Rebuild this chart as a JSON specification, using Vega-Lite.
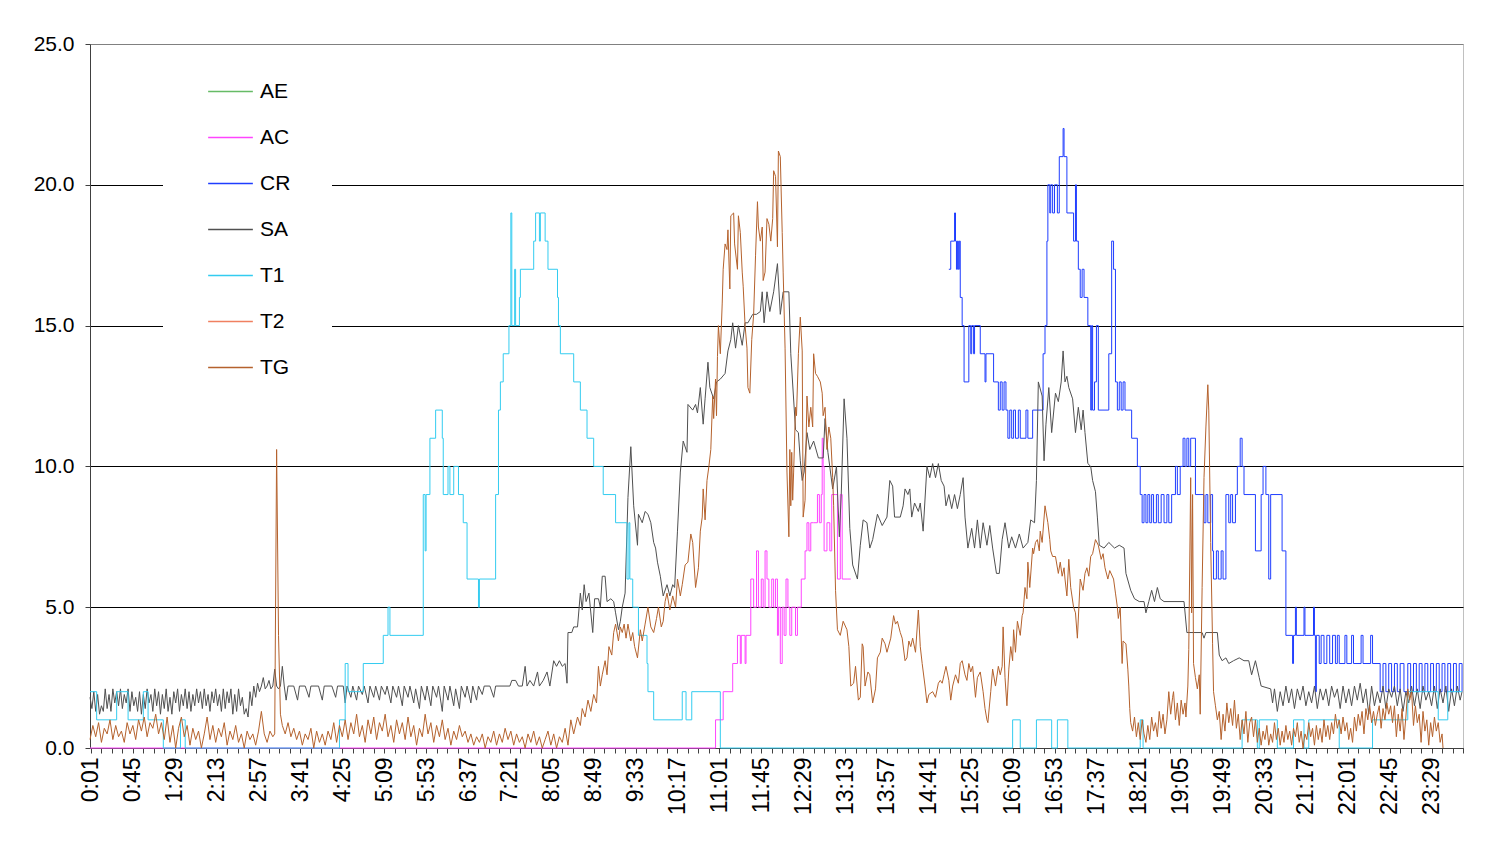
{
"$schema": "https://vega.github.io/schema/vega-lite/v6.json",
"width": 1373, "height": 704,
"autosize": {"type": "none"},
"padding": {"left": 90, "top": 44, "right": 32, "bottom": 94},
"background": "white",
"config": {"view": {"stroke": "#c0c0c0", "strokeWidth": 1}, "font": "Liberation Sans"},
"datasets": {
"ac": [{"t":0,"v":0},{"t":657,"v":1},{"t":665,"v":2},{"t":675,"v":3},{"t":680,"v":4},{"t":683,"v":3},{"t":684,"v":4},{"t":688,"v":3},{"t":689,"v":4},{"t":694,"v":6},{"t":697,"v":5},{"t":700,"v":7},{"t":702,"v":5},{"t":705,"v":6},{"t":707,"v":5},{"t":709,"v":7},{"t":711,"v":6},{"t":713,"v":5},{"t":716,"v":6},{"t":718,"v":5},{"t":720,"v":6},{"t":722,"v":4},{"t":723,"v":5},{"t":725,"v":3},{"t":727,"v":5},{"t":729,"v":4},{"t":731,"v":6},{"t":733,"v":5},{"t":735,"v":4},{"t":737,"v":5},{"t":741,"v":4},{"t":743,"v":5},{"t":747,"v":6},{"t":751,"v":7},{"t":753,"v":8},{"t":755,"v":7},{"t":757,"v":8},{"t":760,"v":8},{"t":764,"v":9},{"t":766,"v":8},{"t":768,"v":9},{"t":769,"v":11},{"t":770,"v":10},{"t":771,"v":7},{"t":774,"v":8},{"t":777,"v":7},{"t":779,"v":9},{"t":783,"v":9},{"t":785,"v":6},{"t":788,"v":9},{"t":790,"v":6},{"t":796,"v":6},{"t":799,"v":6}],
"cr": [{"t":902,"v":17},{"t":904,"v":18},{"t":908,"v":19},{"t":909,"v":18},{"t":910,"v":17},{"t":911,"v":18},{"t":912,"v":17},{"t":913,"v":18},{"t":914,"v":16},{"t":916,"v":15},{"t":918,"v":13},{"t":923,"v":15},{"t":925,"v":14},{"t":926,"v":15},{"t":928,"v":14},{"t":929,"v":15},{"t":935,"v":14},{"t":940,"v":13},{"t":941,"v":14},{"t":949,"v":13},{"t":954,"v":12},{"t":956,"v":13},{"t":958,"v":12},{"t":960,"v":13},{"t":962,"v":12},{"t":964,"v":11},{"t":966,"v":12},{"t":968,"v":11},{"t":970,"v":12},{"t":972,"v":11},{"t":975,"v":12},{"t":977,"v":11},{"t":983,"v":12},{"t":985,"v":11},{"t":990,"v":12},{"t":1001,"v":14},{"t":1003,"v":15},{"t":1005,"v":18},{"t":1006,"v":20},{"t":1008,"v":19},{"t":1009,"v":20},{"t":1011,"v":19},{"t":1013,"v":20},{"t":1016,"v":19},{"t":1018,"v":21},{"t":1022,"v":22},{"t":1023,"v":21},{"t":1026,"v":19},{"t":1033,"v":18},{"t":1035,"v":20},{"t":1036,"v":18},{"t":1038,"v":17},{"t":1040,"v":16},{"t":1042,"v":17},{"t":1044,"v":16},{"t":1048,"v":15},{"t":1051,"v":12},{"t":1052,"v":15},{"t":1053,"v":12},{"t":1055,"v":13},{"t":1057,"v":15},{"t":1059,"v":12},{"t":1070,"v":14},{"t":1073,"v":18},{"t":1075,"v":17},{"t":1077,"v":13},{"t":1079,"v":12},{"t":1081,"v":13},{"t":1083,"v":12},{"t":1085,"v":13},{"t":1087,"v":12},{"t":1094,"v":11},{"t":1100,"v":10},{"t":1103,"v":9},{"t":1105,"v":8},{"t":1107,"v":9},{"t":1109,"v":8},{"t":1111,"v":9},{"t":1113,"v":8},{"t":1115,"v":9},{"t":1117,"v":8},{"t":1120,"v":9},{"t":1122,"v":8},{"t":1125,"v":9},{"t":1128,"v":8},{"t":1131,"v":9},{"t":1133,"v":8},{"t":1136,"v":9},{"t":1140,"v":10},{"t":1142,"v":9},{"t":1145,"v":10},{"t":1148,"v":11},{"t":1150,"v":10},{"t":1152,"v":11},{"t":1154,"v":10},{"t":1156,"v":11},{"t":1161,"v":9},{"t":1170,"v":8},{"t":1172,"v":9},{"t":1174,"v":8},{"t":1177,"v":9},{"t":1179,"v":7},{"t":1180,"v":6},{"t":1183,"v":7},{"t":1185,"v":6},{"t":1188,"v":7},{"t":1190,"v":6},{"t":1193,"v":9},{"t":1196,"v":8},{"t":1198,"v":9},{"t":1200,"v":8},{"t":1203,"v":9},{"t":1205,"v":10},{"t":1208,"v":11},{"t":1210,"v":10},{"t":1212,"v":9},{"t":1224,"v":7},{"t":1230,"v":9},{"t":1232,"v":10},{"t":1235,"v":9},{"t":1238,"v":6},{"t":1240,"v":9},{"t":1252,"v":7},{"t":1256,"v":4},{"t":1263,"v":3},{"t":1264,"v":4},{"t":1266,"v":5},{"t":1267,"v":4},{"t":1275,"v":5},{"t":1276,"v":4},{"t":1285,"v":5},{"t":1286,"v":4},{"t":1287,"v":2},{"t":1288,"v":4},{"t":1291,"v":3},{"t":1293,"v":4},{"t":1296,"v":3},{"t":1299,"v":4},{"t":1302,"v":3},{"t":1305,"v":4},{"t":1308,"v":3},{"t":1310,"v":4},{"t":1312,"v":3},{"t":1318,"v":4},{"t":1320,"v":3},{"t":1325,"v":4},{"t":1327,"v":3},{"t":1335,"v":4},{"t":1337,"v":3},{"t":1345,"v":4},{"t":1347,"v":3},{"t":1355,"v":2},{"t":1358,"v":3},{"t":1361,"v":2},{"t":1364,"v":3},{"t":1367,"v":2},{"t":1370,"v":3},{"t":1373,"v":2},{"t":1376,"v":3},{"t":1380,"v":2},{"t":1384,"v":3},{"t":1387,"v":2},{"t":1390,"v":3},{"t":1393,"v":2},{"t":1396,"v":3},{"t":1399,"v":2},{"t":1402,"v":3},{"t":1405,"v":2},{"t":1408,"v":3},{"t":1411,"v":2},{"t":1414,"v":3},{"t":1417,"v":2},{"t":1420,"v":3},{"t":1423,"v":2},{"t":1426,"v":3},{"t":1429,"v":2},{"t":1432,"v":3},{"t":1435,"v":2},{"t":1438,"v":3},{"t":1441,"v":2}],
"sa": [{"t":0,"v":1.8},{"t":2,"v":1.4},{"t":4,"v":2.0},{"t":6,"v":1.3},{"t":8,"v":1.9},{"t":10,"v":1.2},{"t":12,"v":1.5},{"t":14,"v":1.3},{"t":16,"v":2.1},{"t":18,"v":1.4},{"t":20,"v":1.9},{"t":22,"v":1.3},{"t":24,"v":2.1},{"t":26,"v":1.6},{"t":28,"v":2.0},{"t":30,"v":1.5},{"t":32,"v":2.1},{"t":34,"v":1.4},{"t":36,"v":1.9},{"t":38,"v":1.6},{"t":40,"v":2.1},{"t":42,"v":1.3},{"t":44,"v":2.0},{"t":46,"v":1.5},{"t":48,"v":1.8},{"t":50,"v":1.3},{"t":52,"v":2.0},{"t":54,"v":1.2},{"t":56,"v":1.9},{"t":58,"v":1.4},{"t":60,"v":2.1},{"t":62,"v":1.6},{"t":64,"v":1.9},{"t":66,"v":1.3},{"t":68,"v":2.1},{"t":70,"v":1.5},{"t":72,"v":2.0},{"t":74,"v":1.2},{"t":76,"v":1.9},{"t":78,"v":1.4},{"t":80,"v":2.1},{"t":82,"v":1.3},{"t":84,"v":1.8},{"t":86,"v":1.2},{"t":88,"v":2.0},{"t":90,"v":1.6},{"t":92,"v":2.1},{"t":94,"v":1.3},{"t":96,"v":1.9},{"t":98,"v":1.5},{"t":100,"v":2.1},{"t":102,"v":1.4},{"t":104,"v":2.0},{"t":106,"v":1.3},{"t":108,"v":1.9},{"t":110,"v":1.5},{"t":112,"v":2.1},{"t":114,"v":1.6},{"t":116,"v":2.0},{"t":118,"v":1.4},{"t":120,"v":2.1},{"t":122,"v":1.5},{"t":124,"v":1.9},{"t":126,"v":1.3},{"t":128,"v":2.0},{"t":130,"v":1.6},{"t":132,"v":2.1},{"t":134,"v":1.5},{"t":136,"v":1.9},{"t":138,"v":1.3},{"t":140,"v":2.1},{"t":142,"v":1.4},{"t":144,"v":2.0},{"t":146,"v":1.6},{"t":148,"v":2.1},{"t":150,"v":1.2},{"t":152,"v":1.9},{"t":154,"v":1.3},{"t":156,"v":2.1},{"t":158,"v":1.5},{"t":160,"v":1.8},{"t":162,"v":1.2},{"t":164,"v":1.4},{"t":166,"v":1.1},{"t":168,"v":2.0},{"t":170,"v":1.5},{"t":172,"v":2.2},{"t":174,"v":1.8},{"t":176,"v":2.3},{"t":178,"v":2.0},{"t":180,"v":2.2},{"t":182,"v":2.5},{"t":184,"v":2.1},{"t":186,"v":2.2},{"t":188,"v":2.4},{"t":190,"v":2.1},{"t":192,"v":2.2},{"t":194,"v":2.8},{"t":196,"v":2.2},{"t":198,"v":2.1},{"t":200,"v":2.2},{"t":202,"v":2.9},{"t":204,"v":2.2},{"t":206,"v":1.7},{"t":208,"v":2.2},{"t":214,"v":2.2},{"t":218,"v":1.7},{"t":220,"v":2.2},{"t":226,"v":2.2},{"t":230,"v":1.8},{"t":232,"v":2.2},{"t":240,"v":2.2},{"t":244,"v":1.7},{"t":246,"v":2.2},{"t":254,"v":2.2},{"t":258,"v":1.8},{"t":260,"v":2.2},{"t":266,"v":2.2},{"t":268,"v":1.6},{"t":270,"v":2.2},{"t":274,"v":1.8},{"t":276,"v":2.2},{"t":280,"v":1.7},{"t":282,"v":2.2},{"t":286,"v":1.9},{"t":288,"v":2.2},{"t":292,"v":1.6},{"t":294,"v":2.2},{"t":298,"v":1.8},{"t":300,"v":2.2},{"t":304,"v":1.7},{"t":306,"v":2.2},{"t":310,"v":1.9},{"t":312,"v":2.2},{"t":316,"v":1.6},{"t":318,"v":2.2},{"t":322,"v":1.8},{"t":324,"v":2.2},{"t":328,"v":1.5},{"t":330,"v":2.2},{"t":334,"v":1.8},{"t":336,"v":2.2},{"t":340,"v":1.6},{"t":342,"v":2.1},{"t":346,"v":1.4},{"t":348,"v":2.2},{"t":352,"v":1.7},{"t":354,"v":2.2},{"t":358,"v":1.5},{"t":360,"v":2.2},{"t":364,"v":1.8},{"t":366,"v":2.2},{"t":370,"v":1.3},{"t":372,"v":2.2},{"t":376,"v":1.7},{"t":378,"v":2.2},{"t":382,"v":1.5},{"t":384,"v":2.1},{"t":388,"v":1.4},{"t":390,"v":2.2},{"t":394,"v":1.8},{"t":396,"v":2.2},{"t":400,"v":1.6},{"t":402,"v":2.2},{"t":406,"v":1.7},{"t":408,"v":2.2},{"t":412,"v":1.9},{"t":414,"v":2.2},{"t":420,"v":2.2},{"t":424,"v":1.8},{"t":426,"v":2.2},{"t":441,"v":2.2},{"t":443,"v":2.4},{"t":447,"v":2.4},{"t":450,"v":2.2},{"t":454,"v":2.2},{"t":457,"v":2.9},{"t":459,"v":2.2},{"t":462,"v":2.4},{"t":466,"v":2.2},{"t":470,"v":2.7},{"t":472,"v":2.2},{"t":476,"v":2.4},{"t":480,"v":2.7},{"t":483,"v":2.2},{"t":487,"v":3.1},{"t":490,"v":2.9},{"t":493,"v":3.1},{"t":496,"v":2.9},{"t":499,"v":3.0},{"t":501,"v":2.3},{"t":502,"v":4.1},{"t":506,"v":4.1},{"t":508,"v":4.3},{"t":512,"v":4.3},{"t":515,"v":5.5},{"t":517,"v":4.9},{"t":519,"v":5.8},{"t":521,"v":5.2},{"t":524,"v":5.5},{"t":528,"v":4.1},{"t":530,"v":5.3},{"t":534,"v":5.3},{"t":536,"v":5.0},{"t":538,"v":6.1},{"t":541,"v":6.1},{"t":543,"v":5.2},{"t":547,"v":5.3},{"t":550,"v":5.2},{"t":552,"v":4.8},{"t":555,"v":4.2},{"t":557,"v":4.5},{"t":559,"v":5.0},{"t":562,"v":5.5},{"t":565,"v":8.9},{"t":568,"v":10.7},{"t":571,"v":8.6},{"t":575,"v":7.2},{"t":576,"v":8.3},{"t":580,"v":8.0},{"t":583,"v":8.4},{"t":586,"v":8.3},{"t":589,"v":8.0},{"t":592,"v":7.3},{"t":594,"v":7.1},{"t":596,"v":6.6},{"t":599,"v":6.1},{"t":602,"v":5.4},{"t":606,"v":5.8},{"t":609,"v":5.4},{"t":612,"v":5.8},{"t":614,"v":5.7},{"t":617,"v":7.7},{"t":620,"v":9.8},{"t":623,"v":10.9},{"t":627,"v":10.5},{"t":628,"v":12.2},{"t":633,"v":12.0},{"t":636,"v":12.2},{"t":638,"v":11.9},{"t":641,"v":12.8},{"t":644,"v":11.5},{"t":646,"v":12.4},{"t":649,"v":13.7},{"t":651,"v":12.8},{"t":655,"v":12.4},{"t":658,"v":13.0},{"t":662,"v":13.1},{"t":667,"v":13.3},{"t":670,"v":14.1},{"t":673,"v":14.5},{"t":675,"v":15.1},{"t":678,"v":14.2},{"t":681,"v":15.0},{"t":685,"v":14.3},{"t":688,"v":15.1},{"t":691,"v":15.1},{"t":696,"v":15.4},{"t":700,"v":15.4},{"t":704,"v":15.5},{"t":706,"v":16.2},{"t":708,"v":15.1},{"t":711,"v":16.2},{"t":714,"v":15.5},{"t":718,"v":16.2},{"t":722,"v":17.2},{"t":725,"v":15.4},{"t":728,"v":16.2},{"t":734,"v":16.2},{"t":736,"v":14.0},{"t":741,"v":11.3},{"t":744,"v":11.2},{"t":746,"v":10.2},{"t":748,"v":9.5},{"t":750,"v":9.8},{"t":753,"v":11.2},{"t":756,"v":10.6},{"t":760,"v":10.9},{"t":765,"v":10.3},{"t":770,"v":10.3},{"t":772,"v":11.7},{"t":775,"v":10.5},{"t":780,"v":9.2},{"t":784,"v":10.0},{"t":787,"v":7.5},{"t":789,"v":9.0},{"t":792,"v":12.4},{"t":795,"v":11.0},{"t":798,"v":7.8},{"t":801,"v":6.5},{"t":806,"v":6.0},{"t":809,"v":7.2},{"t":812,"v":8.1},{"t":816,"v":8.0},{"t":819,"v":7.1},{"t":822,"v":7.4},{"t":827,"v":8.3},{"t":832,"v":7.9},{"t":837,"v":8.2},{"t":840,"v":9.5},{"t":843,"v":9.3},{"t":845,"v":8.2},{"t":851,"v":8.2},{"t":854,"v":8.6},{"t":856,"v":9.2},{"t":859,"v":9.0},{"t":861,"v":9.2},{"t":863,"v":8.2},{"t":866,"v":8.7},{"t":870,"v":8.4},{"t":872,"v":8.7},{"t":875,"v":7.7},{"t":879,"v":10.0},{"t":882,"v":9.6},{"t":885,"v":10.1},{"t":888,"v":9.6},{"t":891,"v":10.1},{"t":894,"v":9.5},{"t":897,"v":9.3},{"t":899,"v":8.6},{"t":902,"v":9.0},{"t":905,"v":8.5},{"t":908,"v":9.0},{"t":911,"v":8.5},{"t":914,"v":9.0},{"t":917,"v":9.6},{"t":919,"v":8.2},{"t":922,"v":7.1},{"t":926,"v":7.8},{"t":929,"v":7.1},{"t":932,"v":8.1},{"t":935,"v":7.1},{"t":938,"v":8.0},{"t":942,"v":7.2},{"t":945,"v":7.9},{"t":948,"v":7.1},{"t":952,"v":6.2},{"t":955,"v":6.2},{"t":958,"v":7.4},{"t":961,"v":8.0},{"t":965,"v":7.1},{"t":968,"v":7.5},{"t":972,"v":7.1},{"t":976,"v":7.6},{"t":980,"v":7.1},{"t":985,"v":7.3},{"t":988,"v":8.1},{"t":992,"v":8.0},{"t":994,"v":9.5},{"t":996,"v":13.0},{"t":1000,"v":12.5},{"t":1002,"v":10.2},{"t":1004,"v":11.5},{"t":1007,"v":12.8},{"t":1010,"v":11.2},{"t":1014,"v":12.6},{"t":1017,"v":12.3},{"t":1020,"v":13.0},{"t":1022,"v":14.1},{"t":1024,"v":13.0},{"t":1026,"v":13.2},{"t":1028,"v":12.8},{"t":1032,"v":12.4},{"t":1035,"v":11.2},{"t":1038,"v":12.1},{"t":1041,"v":11.3},{"t":1043,"v":12.0},{"t":1045,"v":11.2},{"t":1048,"v":10.1},{"t":1051,"v":10.0},{"t":1053,"v":9.5},{"t":1056,"v":9.1},{"t":1058,"v":8.2},{"t":1060,"v":7.2},{"t":1065,"v":7.1},{"t":1070,"v":7.3},{"t":1076,"v":7.1},{"t":1081,"v":7.2},{"t":1086,"v":7.1},{"t":1088,"v":6.2},{"t":1093,"v":5.6},{"t":1097,"v":5.3},{"t":1102,"v":5.2},{"t":1107,"v":5.2},{"t":1109,"v":4.8},{"t":1112,"v":5.2},{"t":1115,"v":5.6},{"t":1118,"v":5.2},{"t":1121,"v":5.7},{"t":1124,"v":5.3},{"t":1128,"v":5.2},{"t":1149,"v":5.2},{"t":1152,"v":4.1},{"t":1168,"v":4.1},{"t":1170,"v":3.9},{"t":1172,"v":4.1},{"t":1184,"v":4.1},{"t":1186,"v":3.3},{"t":1189,"v":3.1},{"t":1193,"v":3.2},{"t":1196,"v":3.0},{"t":1201,"v":3.1},{"t":1207,"v":3.2},{"t":1212,"v":3.1},{"t":1217,"v":3.1},{"t":1220,"v":2.6},{"t":1224,"v":3.1},{"t":1228,"v":2.5},{"t":1230,"v":2.2},{"t":1240,"v":2.1},{"t":1242,"v":1.6},{"t":1244,"v":2.1},{"t":1247,"v":1.3},{"t":1250,"v":2.0},{"t":1253,"v":1.5},{"t":1256,"v":2.2},{"t":1259,"v":1.6},{"t":1262,"v":2.1},{"t":1265,"v":1.4},{"t":1268,"v":2.1},{"t":1271,"v":1.7},{"t":1274,"v":2.2},{"t":1277,"v":1.5},{"t":1280,"v":2.0},{"t":1283,"v":1.6},{"t":1286,"v":2.2},{"t":1289,"v":1.4},{"t":1292,"v":2.1},{"t":1295,"v":1.7},{"t":1298,"v":2.1},{"t":1301,"v":1.5},{"t":1304,"v":2.2},{"t":1307,"v":1.8},{"t":1310,"v":2.1},{"t":1313,"v":1.4},{"t":1316,"v":2.2},{"t":1319,"v":1.6},{"t":1322,"v":2.1},{"t":1325,"v":1.5},{"t":1328,"v":2.2},{"t":1331,"v":1.7},{"t":1334,"v":2.3},{"t":1337,"v":1.6},{"t":1340,"v":2.1},{"t":1343,"v":1.2},{"t":1346,"v":2.2},{"t":1349,"v":1.5},{"t":1352,"v":2.0},{"t":1355,"v":1.6},{"t":1358,"v":2.2},{"t":1361,"v":1.4},{"t":1364,"v":2.1},{"t":1367,"v":1.8},{"t":1370,"v":2.2},{"t":1373,"v":1.5},{"t":1376,"v":2.1},{"t":1379,"v":1.3},{"t":1382,"v":2.0},{"t":1385,"v":1.6},{"t":1388,"v":2.2},{"t":1391,"v":1.5},{"t":1394,"v":2.1},{"t":1397,"v":1.4},{"t":1400,"v":2.2},{"t":1403,"v":1.7},{"t":1406,"v":2.0},{"t":1409,"v":1.5},{"t":1412,"v":2.2},{"t":1415,"v":1.4},{"t":1418,"v":2.1},{"t":1421,"v":1.6},{"t":1424,"v":2.2},{"t":1427,"v":1.3},{"t":1430,"v":2.1},{"t":1433,"v":1.5},{"t":1436,"v":2.2},{"t":1439,"v":1.7},{"t":1441,"v":2.0}],
"t1": [{"t":0,"v":2},{"t":7,"v":1},{"t":28,"v":2},{"t":40,"v":1},{"t":56,"v":2},{"t":61,"v":1},{"t":77,"v":0},{"t":95,"v":1},{"t":100,"v":0},{"t":262,"v":1},{"t":268,"v":3},{"t":271,"v":2},{"t":287,"v":3},{"t":308,"v":4},{"t":313,"v":5},{"t":315,"v":4},{"t":350,"v":9},{"t":352,"v":7},{"t":353,"v":9},{"t":357,"v":11},{"t":363,"v":12},{"t":370,"v":11},{"t":371,"v":9},{"t":376,"v":10},{"t":378,"v":9},{"t":382,"v":10},{"t":387,"v":9},{"t":392,"v":8},{"t":396,"v":6},{"t":408,"v":5},{"t":409,"v":6},{"t":426,"v":9},{"t":429,"v":12},{"t":431,"v":13},{"t":434,"v":14},{"t":440,"v":15},{"t":442,"v":19},{"t":443,"v":15},{"t":446,"v":17},{"t":447,"v":15},{"t":451,"v":16},{"t":452,"v":17},{"t":466,"v":18},{"t":468,"v":19},{"t":472,"v":18},{"t":473,"v":19},{"t":478,"v":18},{"t":481,"v":17},{"t":491,"v":16},{"t":492,"v":15},{"t":494,"v":14},{"t":508,"v":13},{"t":515,"v":12},{"t":522,"v":11},{"t":529,"v":10},{"t":539,"v":9},{"t":552,"v":8},{"t":564,"v":6},{"t":566,"v":8},{"t":567,"v":6},{"t":570,"v":5},{"t":576,"v":4},{"t":585,"v":3},{"t":586,"v":2},{"t":592,"v":1},{"t":622,"v":2},{"t":626,"v":1},{"t":632,"v":2},{"t":662,"v":0},{"t":969,"v":1},{"t":977,"v":0},{"t":994,"v":1},{"t":1010,"v":0},{"t":1016,"v":1},{"t":1027,"v":0},{"t":1103,"v":1},{"t":1106,"v":0},{"t":1210,"v":1},{"t":1226,"v":0},{"t":1228,"v":1},{"t":1247,"v":0},{"t":1264,"v":1},{"t":1275,"v":0},{"t":1280,"v":1},{"t":1312,"v":0},{"t":1347,"v":1},{"t":1384,"v":2},{"t":1416,"v":1},{"t":1426,"v":2},{"t":1441,"v":2}],
"tg": [{"t":0,"v":0.3},{"t":3,"v":0.8},{"t":6,"v":0.4},{"t":9,"v":0.9},{"t":12,"v":0.2},{"t":15,"v":0.7},{"t":18,"v":0.5},{"t":21,"v":1.0},{"t":24,"v":0.3},{"t":27,"v":0.8},{"t":30,"v":0.4},{"t":33,"v":0.6},{"t":36,"v":0.2},{"t":39,"v":0.9},{"t":42,"v":0.5},{"t":45,"v":0.8},{"t":48,"v":0.3},{"t":51,"v":1.0},{"t":54,"v":0.6},{"t":57,"v":1.1},{"t":60,"v":0.4},{"t":63,"v":0.9},{"t":66,"v":0.7},{"t":69,"v":1.2},{"t":72,"v":0.5},{"t":75,"v":0.9},{"t":78,"v":0.3},{"t":81,"v":1.1},{"t":84,"v":0.2},{"t":87,"v":0.8},{"t":90,"v":0.0},{"t":93,"v":0.7},{"t":96,"v":1.1},{"t":99,"v":0.4},{"t":102,"v":0.8},{"t":105,"v":0.1},{"t":108,"v":0.7},{"t":111,"v":0.3},{"t":114,"v":0.6},{"t":117,"v":0.0},{"t":120,"v":0.5},{"t":123,"v":1.1},{"t":126,"v":0.3},{"t":129,"v":0.8},{"t":132,"v":0.2},{"t":135,"v":0.7},{"t":138,"v":0.4},{"t":141,"v":0.9},{"t":144,"v":0.1},{"t":147,"v":0.6},{"t":150,"v":0.3},{"t":153,"v":0.8},{"t":156,"v":0.2},{"t":159,"v":0.5},{"t":162,"v":0.0},{"t":165,"v":0.6},{"t":168,"v":0.3},{"t":171,"v":0.5},{"t":174,"v":0.1},{"t":177,"v":0.6},{"t":180,"v":1.3},{"t":183,"v":0.5},{"t":186,"v":0.2},{"t":189,"v":0.6},{"t":192,"v":0.4},{"t":194,"v":0.5},{"t":196,"v":10.6},{"t":198,"v":4.0},{"t":200,"v":1.2},{"t":202,"v":0.8},{"t":205,"v":0.5},{"t":208,"v":0.9},{"t":211,"v":0.4},{"t":214,"v":0.7},{"t":217,"v":0.3},{"t":220,"v":0.6},{"t":223,"v":0.1},{"t":226,"v":0.5},{"t":229,"v":0.3},{"t":232,"v":0.7},{"t":235,"v":0.0},{"t":238,"v":0.6},{"t":241,"v":0.2},{"t":244,"v":0.5},{"t":247,"v":0.1},{"t":250,"v":0.6},{"t":253,"v":0.3},{"t":256,"v":0.9},{"t":259,"v":0.2},{"t":262,"v":0.8},{"t":265,"v":0.4},{"t":268,"v":1.0},{"t":271,"v":0.3},{"t":274,"v":0.9},{"t":277,"v":0.5},{"t":280,"v":1.2},{"t":283,"v":0.4},{"t":286,"v":0.8},{"t":289,"v":0.2},{"t":292,"v":1.0},{"t":295,"v":0.5},{"t":298,"v":1.1},{"t":301,"v":0.3},{"t":304,"v":0.9},{"t":307,"v":0.6},{"t":310,"v":1.2},{"t":313,"v":0.4},{"t":316,"v":0.8},{"t":319,"v":0.2},{"t":322,"v":1.0},{"t":325,"v":0.5},{"t":328,"v":0.9},{"t":331,"v":0.3},{"t":334,"v":1.1},{"t":337,"v":0.4},{"t":340,"v":0.8},{"t":343,"v":0.1},{"t":346,"v":0.7},{"t":349,"v":0.4},{"t":352,"v":1.2},{"t":355,"v":0.5},{"t":358,"v":0.9},{"t":361,"v":0.2},{"t":364,"v":0.8},{"t":367,"v":0.4},{"t":370,"v":1.0},{"t":373,"v":0.3},{"t":376,"v":0.7},{"t":379,"v":0.1},{"t":382,"v":0.6},{"t":385,"v":0.3},{"t":388,"v":0.8},{"t":391,"v":0.4},{"t":394,"v":0.6},{"t":397,"v":0.2},{"t":400,"v":0.5},{"t":403,"v":0.1},{"t":406,"v":0.4},{"t":409,"v":0.2},{"t":412,"v":0.5},{"t":415,"v":0.0},{"t":418,"v":0.4},{"t":421,"v":0.2},{"t":424,"v":0.6},{"t":427,"v":0.1},{"t":430,"v":0.5},{"t":433,"v":0.2},{"t":436,"v":0.7},{"t":439,"v":0.3},{"t":442,"v":0.6},{"t":445,"v":0.1},{"t":448,"v":0.5},{"t":451,"v":0.2},{"t":454,"v":0.4},{"t":457,"v":0.0},{"t":460,"v":0.5},{"t":463,"v":0.2},{"t":466,"v":0.6},{"t":469,"v":0.1},{"t":472,"v":0.4},{"t":475,"v":0.0},{"t":478,"v":0.3},{"t":481,"v":0.6},{"t":484,"v":0.1},{"t":487,"v":0.5},{"t":490,"v":0.0},{"t":493,"v":0.4},{"t":496,"v":0.2},{"t":499,"v":0.7},{"t":502,"v":0.1},{"t":505,"v":1.0},{"t":508,"v":0.5},{"t":512,"v":1.1},{"t":515,"v":0.8},{"t":517,"v":1.4},{"t":520,"v":1.1},{"t":523,"v":1.7},{"t":526,"v":1.3},{"t":529,"v":1.9},{"t":532,"v":1.6},{"t":534,"v":2.9},{"t":536,"v":2.2},{"t":538,"v":2.6},{"t":541,"v":3.1},{"t":543,"v":2.6},{"t":545,"v":3.6},{"t":548,"v":3.3},{"t":550,"v":4.1},{"t":552,"v":4.4},{"t":555,"v":3.8},{"t":557,"v":4.3},{"t":559,"v":4.1},{"t":561,"v":4.4},{"t":563,"v":3.9},{"t":565,"v":4.4},{"t":568,"v":3.8},{"t":570,"v":4.1},{"t":572,"v":3.6},{"t":575,"v":3.2},{"t":578,"v":4.2},{"t":580,"v":3.8},{"t":583,"v":4.4},{"t":586,"v":5.0},{"t":589,"v":4.3},{"t":592,"v":4.1},{"t":595,"v":4.6},{"t":597,"v":5.0},{"t":600,"v":4.3},{"t":602,"v":4.5},{"t":604,"v":5.2},{"t":606,"v":5.5},{"t":609,"v":4.9},{"t":612,"v":5.4},{"t":615,"v":5.0},{"t":617,"v":6.0},{"t":620,"v":5.4},{"t":622,"v":5.8},{"t":625,"v":6.5},{"t":628,"v":6.6},{"t":631,"v":7.6},{"t":633,"v":7.3},{"t":636,"v":5.7},{"t":639,"v":6.4},{"t":641,"v":7.7},{"t":643,"v":8.2},{"t":644,"v":9.2},{"t":646,"v":8.1},{"t":648,"v":9.5},{"t":650,"v":10.0},{"t":652,"v":10.6},{"t":654,"v":12.5},{"t":655,"v":11.7},{"t":657,"v":13.1},{"t":658,"v":11.8},{"t":659,"v":13.9},{"t":660,"v":15.0},{"t":662,"v":14.0},{"t":664,"v":15.8},{"t":665,"v":17.0},{"t":667,"v":17.9},{"t":669,"v":17.7},{"t":670,"v":18.4},{"t":672,"v":16.3},{"t":673,"v":18.9},{"t":676,"v":19.0},{"t":677,"v":17.9},{"t":680,"v":17.0},{"t":681,"v":18.9},{"t":683,"v":18.3},{"t":685,"v":16.9},{"t":686,"v":16.4},{"t":688,"v":15.0},{"t":690,"v":14.2},{"t":691,"v":12.8},{"t":693,"v":12.6},{"t":695,"v":14.5},{"t":697,"v":15.4},{"t":699,"v":17.5},{"t":701,"v":19.4},{"t":702,"v":18.5},{"t":704,"v":18.0},{"t":706,"v":18.5},{"t":707,"v":16.6},{"t":709,"v":16.9},{"t":711,"v":18.8},{"t":713,"v":18.6},{"t":715,"v":18.0},{"t":717,"v":18.8},{"t":718,"v":20.5},{"t":720,"v":20.3},{"t":722,"v":17.8},{"t":723,"v":21.2},{"t":725,"v":21.0},{"t":727,"v":18.3},{"t":728,"v":16.9},{"t":730,"v":14.2},{"t":732,"v":9.8},{"t":734,"v":7.5},{"t":735,"v":10.6},{"t":736,"v":8.6},{"t":737,"v":10.5},{"t":738,"v":8.8},{"t":739,"v":9.8},{"t":741,"v":12.1},{"t":742,"v":11.8},{"t":744,"v":14.0},{"t":746,"v":15.3},{"t":748,"v":14.1},{"t":749,"v":8.2},{"t":751,"v":8.8},{"t":753,"v":12.5},{"t":755,"v":11.4},{"t":757,"v":12.1},{"t":759,"v":11.4},{"t":760,"v":14.0},{"t":762,"v":13.3},{"t":764,"v":13.2},{"t":767,"v":13.0},{"t":769,"v":12.6},{"t":770,"v":11.8},{"t":772,"v":12.1},{"t":774,"v":10.6},{"t":776,"v":11.4},{"t":778,"v":11.0},{"t":780,"v":9.6},{"t":781,"v":8.6},{"t":783,"v":5.6},{"t":785,"v":4.2},{"t":788,"v":4.0},{"t":791,"v":4.5},{"t":795,"v":4.2},{"t":797,"v":3.6},{"t":799,"v":2.2},{"t":802,"v":2.3},{"t":804,"v":2.9},{"t":807,"v":1.7},{"t":809,"v":1.8},{"t":811,"v":3.7},{"t":812,"v":3.6},{"t":814,"v":2.2},{"t":817,"v":2.7},{"t":819,"v":2.6},{"t":822,"v":1.6},{"t":825,"v":2.1},{"t":827,"v":3.2},{"t":830,"v":3.4},{"t":832,"v":3.9},{"t":835,"v":3.7},{"t":837,"v":3.4},{"t":841,"v":3.9},{"t":844,"v":4.7},{"t":846,"v":4.4},{"t":848,"v":4.5},{"t":851,"v":4.1},{"t":853,"v":3.9},{"t":856,"v":3.1},{"t":858,"v":3.2},{"t":860,"v":3.8},{"t":862,"v":3.6},{"t":864,"v":3.9},{"t":867,"v":3.4},{"t":870,"v":4.9},{"t":872,"v":3.6},{"t":874,"v":3.0},{"t":877,"v":2.2},{"t":879,"v":1.6},{"t":881,"v":1.9},{"t":885,"v":2.0},{"t":888,"v":1.8},{"t":891,"v":2.3},{"t":893,"v":2.4},{"t":895,"v":2.3},{"t":897,"v":2.6},{"t":899,"v":2.9},{"t":902,"v":2.4},{"t":904,"v":1.7},{"t":906,"v":2.2},{"t":909,"v":2.6},{"t":912,"v":2.3},{"t":914,"v":3.0},{"t":916,"v":3.1},{"t":919,"v":2.6},{"t":921,"v":2.4},{"t":923,"v":3.0},{"t":925,"v":2.7},{"t":927,"v":2.9},{"t":930,"v":1.8},{"t":932,"v":2.5},{"t":935,"v":2.7},{"t":938,"v":2.0},{"t":940,"v":1.4},{"t":942,"v":1.0},{"t":943,"v":0.9},{"t":946,"v":2.0},{"t":948,"v":2.8},{"t":951,"v":2.2},{"t":954,"v":2.9},{"t":956,"v":2.6},{"t":958,"v":2.9},{"t":959,"v":4.3},{"t":961,"v":2.5},{"t":963,"v":1.5},{"t":965,"v":2.8},{"t":967,"v":3.6},{"t":969,"v":3.1},{"t":970,"v":4.2},{"t":972,"v":3.4},{"t":974,"v":4.5},{"t":977,"v":4.0},{"t":979,"v":4.7},{"t":980,"v":4.8},{"t":982,"v":5.7},{"t":984,"v":5.3},{"t":985,"v":6.6},{"t":987,"v":5.7},{"t":990,"v":7.1},{"t":991,"v":6.9},{"t":993,"v":7.3},{"t":995,"v":7.4},{"t":997,"v":7.0},{"t":998,"v":7.7},{"t":1000,"v":7.3},{"t":1003,"v":8.6},{"t":1006,"v":8.0},{"t":1008,"v":7.4},{"t":1009,"v":7.0},{"t":1011,"v":6.8},{"t":1014,"v":6.8},{"t":1017,"v":6.2},{"t":1019,"v":6.6},{"t":1021,"v":6.1},{"t":1023,"v":6.4},{"t":1024,"v":6.0},{"t":1026,"v":5.4},{"t":1028,"v":6.7},{"t":1030,"v":5.7},{"t":1033,"v":5.0},{"t":1035,"v":4.8},{"t":1037,"v":3.9},{"t":1040,"v":6.0},{"t":1043,"v":5.6},{"t":1045,"v":6.2},{"t":1047,"v":6.4},{"t":1049,"v":6.1},{"t":1051,"v":6.8},{"t":1053,"v":6.9},{"t":1056,"v":7.4},{"t":1059,"v":7.2},{"t":1062,"v":6.7},{"t":1064,"v":6.9},{"t":1066,"v":6.4},{"t":1069,"v":6.0},{"t":1071,"v":6.3},{"t":1075,"v":6.0},{"t":1077,"v":5.5},{"t":1079,"v":5.0},{"t":1080,"v":4.6},{"t":1082,"v":5.0},{"t":1084,"v":3.0},{"t":1085,"v":3.8},{"t":1088,"v":3.7},{"t":1090,"v":2.8},{"t":1091,"v":2.2},{"t":1092,"v":1.4},{"t":1093,"v":0.9},{"t":1095,"v":0.6},{"t":1097,"v":1.1},{"t":1099,"v":0.4},{"t":1101,"v":0.9},{"t":1103,"v":0.3},{"t":1105,"v":1.0},{"t":1107,"v":0.5},{"t":1109,"v":0.2},{"t":1111,"v":0.8},{"t":1113,"v":0.3},{"t":1115,"v":1.1},{"t":1117,"v":0.6},{"t":1119,"v":0.9},{"t":1121,"v":0.4},{"t":1123,"v":1.3},{"t":1125,"v":0.7},{"t":1127,"v":1.2},{"t":1129,"v":0.5},{"t":1131,"v":1.0},{"t":1133,"v":2.0},{"t":1135,"v":1.2},{"t":1137,"v":1.8},{"t":1138,"v":2.0},{"t":1140,"v":1.0},{"t":1142,"v":1.6},{"t":1144,"v":0.8},{"t":1146,"v":1.7},{"t":1148,"v":1.2},{"t":1150,"v":1.6},{"t":1151,"v":1.1},{"t":1153,"v":2.2},{"t":1154,"v":3.5},{"t":1156,"v":9.6},{"t":1157,"v":4.8},{"t":1158,"v":9.0},{"t":1159,"v":3.0},{"t":1161,"v":2.5},{"t":1163,"v":2.1},{"t":1165,"v":2.6},{"t":1166,"v":1.2},{"t":1168,"v":5.7},{"t":1170,"v":9.6},{"t":1172,"v":11.4},{"t":1174,"v":12.9},{"t":1175,"v":12.0},{"t":1177,"v":7.3},{"t":1179,"v":3.7},{"t":1180,"v":2.0},{"t":1182,"v":1.5},{"t":1184,"v":1.0},{"t":1186,"v":1.3},{"t":1188,"v":0.3},{"t":1190,"v":1.2},{"t":1192,"v":0.6},{"t":1194,"v":1.6},{"t":1196,"v":0.9},{"t":1198,"v":1.4},{"t":1200,"v":0.8},{"t":1202,"v":1.7},{"t":1204,"v":0.7},{"t":1206,"v":1.2},{"t":1208,"v":0.3},{"t":1210,"v":1.0},{"t":1212,"v":0.5},{"t":1214,"v":1.3},{"t":1216,"v":0.2},{"t":1218,"v":0.9},{"t":1220,"v":1.1},{"t":1222,"v":0.4},{"t":1224,"v":1.0},{"t":1226,"v":0.2},{"t":1228,"v":0.7},{"t":1230,"v":0.1},{"t":1232,"v":0.6},{"t":1234,"v":0.3},{"t":1236,"v":0.8},{"t":1238,"v":0.1},{"t":1240,"v":0.5},{"t":1242,"v":0.2},{"t":1244,"v":0.9},{"t":1246,"v":0.3},{"t":1248,"v":0.7},{"t":1250,"v":0.1},{"t":1252,"v":0.6},{"t":1254,"v":0.2},{"t":1256,"v":0.8},{"t":1258,"v":0.3},{"t":1260,"v":0.6},{"t":1262,"v":0.1},{"t":1264,"v":0.7},{"t":1266,"v":0.4},{"t":1268,"v":0.9},{"t":1270,"v":0.2},{"t":1272,"v":0.6},{"t":1274,"v":0.0},{"t":1276,"v":0.5},{"t":1278,"v":0.3},{"t":1280,"v":0.9},{"t":1282,"v":0.4},{"t":1284,"v":0.7},{"t":1286,"v":0.1},{"t":1288,"v":0.8},{"t":1290,"v":0.3},{"t":1292,"v":0.7},{"t":1294,"v":0.2},{"t":1296,"v":1.0},{"t":1298,"v":0.4},{"t":1300,"v":0.8},{"t":1302,"v":0.3},{"t":1304,"v":0.9},{"t":1306,"v":0.5},{"t":1308,"v":1.2},{"t":1310,"v":0.7},{"t":1312,"v":1.0},{"t":1314,"v":0.5},{"t":1316,"v":1.1},{"t":1318,"v":0.6},{"t":1320,"v":0.9},{"t":1322,"v":0.3},{"t":1324,"v":0.7},{"t":1326,"v":0.2},{"t":1328,"v":1.1},{"t":1330,"v":0.6},{"t":1332,"v":1.2},{"t":1334,"v":0.8},{"t":1336,"v":1.3},{"t":1338,"v":0.5},{"t":1340,"v":1.4},{"t":1342,"v":1.0},{"t":1344,"v":1.5},{"t":1346,"v":0.9},{"t":1348,"v":1.3},{"t":1350,"v":0.8},{"t":1352,"v":1.2},{"t":1354,"v":1.5},{"t":1356,"v":0.7},{"t":1358,"v":1.4},{"t":1360,"v":1.0},{"t":1362,"v":1.6},{"t":1364,"v":1.2},{"t":1366,"v":1.5},{"t":1368,"v":0.9},{"t":1370,"v":1.5},{"t":1372,"v":0.4},{"t":1374,"v":1.2},{"t":1376,"v":0.6},{"t":1378,"v":1.4},{"t":1380,"v":0.3},{"t":1382,"v":1.1},{"t":1384,"v":2.1},{"t":1386,"v":1.7},{"t":1388,"v":2.0},{"t":1390,"v":0.8},{"t":1392,"v":1.5},{"t":1394,"v":0.9},{"t":1396,"v":1.2},{"t":1398,"v":0.2},{"t":1400,"v":1.3},{"t":1402,"v":0.6},{"t":1404,"v":1.0},{"t":1406,"v":0.1},{"t":1408,"v":0.9},{"t":1410,"v":0.4},{"t":1412,"v":1.1},{"t":1414,"v":0.6},{"t":1416,"v":0.9},{"t":1418,"v":0.2},{"t":1420,"v":0.5},{"t":1421,"v":0.0}]
},
"encoding": {
  "x": {"field": "t", "type": "quantitative", "scale": {"domain": [0, 1442], "nice": false, "zero": false},
    "axis": {"title": null, "grid": false,
      "values": [1,12,23,34,45,56,67,78,89,100,111,122,133,144,155,166,177,188,199,210,221,232,243,254,265,276,287,298,309,320,331,342,353,364,375,386,397,408,419,430,441,452,463,474,485,496,507,518,529,540,551,562,573,584,595,606,617,628,639,650,661,672,683,694,705,716,727,738,749,760,771,782,793,804,815,826,837,848,859,870,881,892,903,914,925,936,947,958,969,980,991,1002,1013,1024,1035,1046,1057,1068,1079,1090,1101,1112,1123,1134,1145,1156,1167,1178,1189,1200,1211,1222,1233,1244,1255,1266,1277,1288,1299,1310,1321,1332,1343,1354,1365,1376,1387,1398,1409,1420,1431,1442],
      "labelExpr": "(datum.value - 1) % 44 == 0 ? floor(datum.value / 60) + ':' + (datum.value % 60 < 10 ? '0' : '') + (datum.value % 60) : ''",
      "labelAngle": 270, "labelAlign": "right", "labelBaseline": "middle",
      "labelFontSize": 23, "labelColor": "#000000", "labelPadding": 4,
      "labelOverlap": false, "labelBound": false, "labelFlush": false,
      "tickSize": 5, "tickColor": "#404040", "domainColor": "#404040"}},
  "y": {"field": "v", "type": "quantitative", "scale": {"domain": [0, 25], "nice": false},
    "axis": {"title": null, "values": [0,5,10,15,20,25], "format": ".1f",
      "labelFontSize": 21, "labelColor": "#000000", "labelPadding": 11, "labelFlush": false,
      "tickSize": 5, "tickColor": "#404040", "domainColor": "#404040",
      "grid": true, "gridWidth": 1,
      "gridColor": {"condition": {"test": "datum.value == 25", "value": "#808080"}, "value": "#000000"}}}
},
"layer": [
  {"data": {"name": "ac"}, "mark": {"type": "line", "interpolate": "step-after", "strokeWidth": 1},
   "encoding": {"color": {"datum": "AC", "type": "nominal",
     "scale": {"domain": ["AE","AC","CR","SA","T1","T2","TG"], "range": ["#66bb66","#ff44ff","#1f3dff","#505050","#33ccf0","#f08060","#b5622d"]},
     "legend": {"orient": "none", "legendX": 73, "legendY": 4, "title": "\u2003", "titleOrient": "right", "titleFontSize": 18, "titlePadding": 22,
       "symbolType": "stroke", "symbolSize": 2000, "symbolStrokeWidth": 1.5, "symbolOffset": 24,
       "labelFontSize": 21, "labelColor": "#000000", "labelOffset": 6, "rowPadding": 12,
       "fillColor": "#ffffff", "padding": 20}}}},
  {"data": {"name": "cr"}, "mark": {"type": "line", "interpolate": "step-after", "strokeWidth": 1},
   "encoding": {"color": {"datum": "CR", "type": "nominal"}}},
  {"data": {"name": "sa"}, "mark": {"type": "line", "strokeWidth": 1},
   "encoding": {"color": {"datum": "SA", "type": "nominal"}}},
  {"data": {"name": "t1"}, "mark": {"type": "line", "interpolate": "step-after", "strokeWidth": 1},
   "encoding": {"color": {"datum": "T1", "type": "nominal"}}},
  {"data": {"name": "tg"}, "mark": {"type": "line", "strokeWidth": 1},
   "encoding": {"color": {"datum": "TG", "type": "nominal"}}}
]
}
